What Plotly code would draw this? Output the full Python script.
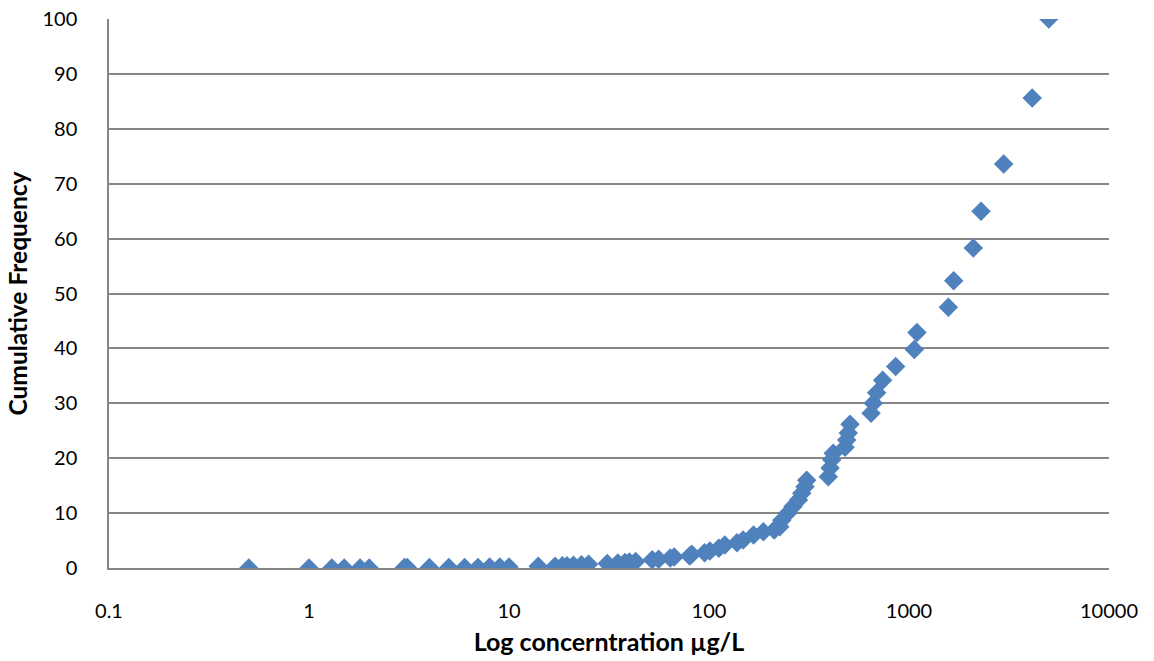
import plotly.graph_objects as go

# Concentrations (µg/L) and cumulative frequency (%)
concentration = [
    0.5, 1, 1.3, 1.5, 1.8, 2, 3, 3.1, 4, 5, 6, 7, 8, 9, 10,
    14, 17, 18.5, 19.5, 21, 23, 25, 31, 35, 38, 40, 43, 52, 56, 64, 67, 80, 82, 95, 101,
    112, 120, 138, 148, 167, 187, 212,
    226, 231, 248, 263, 280, 291, 302, 308,
    395, 403, 411, 418, 479, 488, 497, 507,
    646, 663, 689, 738,
    858, 1063, 1096, 1573, 1673, 2097, 2291, 2975, 4130, 5000,
]
cumulative_freq = [
    0.0, 0.0, 0.0, 0.0, 0.0, 0.0, 0.1, 0.1, 0.1, 0.1, 0.1, 0.1, 0.2, 0.2, 0.2,
    0.3, 0.3, 0.4, 0.4, 0.5, 0.6, 0.7, 0.8, 0.9, 1.0, 1.1, 1.2, 1.5, 1.6, 1.8, 2.0, 2.2, 2.5, 2.8, 3.1,
    3.6, 4.2, 4.6, 5.1, 6.0, 6.6, 6.9,
    7.5, 8.7, 10.0, 11.2, 12.4, 13.6, 14.8, 16.0,
    16.6, 18.2, 19.7, 20.9, 22.0, 23.3, 24.6, 26.2,
    28.2, 30.0, 31.9, 34.2,
    36.7, 39.8, 42.9, 47.5, 52.3, 58.3, 65.0, 73.6, 85.6, 100.0,
]

x_tickvals = [0.1, 1, 10, 100, 1000, 10000]
x_ticktext = ["0.1", "1", "10", "100", "1000", "10000"]
y_tickvals = list(range(0, 101, 10))

font_family = "Lato, 'Open Sans', sans-serif"
grid_color = "#868686"

fig = go.Figure(
    go.Scatter(
        x=concentration,
        y=cumulative_freq,
        mode="markers",
        marker=dict(symbol="diamond", size=15, color="#4F81BD", line=dict(width=0)),
        hoverinfo="skip",
    )
)

fig.update_layout(
    width=1154,
    height=661,
    margin=dict(l=109, r=45, t=19, b=93, autoexpand=False),
    paper_bgcolor="white",
    plot_bgcolor="white",
    showlegend=False,
    font=dict(family=font_family, size=20, color="black"),
)

fig.update_xaxes(
    type="log",
    range=[-1, 4],
    tickvals=x_tickvals,
    ticktext=x_ticktext,
    showgrid=False,
    showline=True,
    linecolor=grid_color,
    linewidth=1.5,
    ticks="",
    ticklabelstandoff=24,
    zeroline=False,
    automargin=False,
    title=dict(text="<b>Log concerntration µg/L</b>", font=dict(size=25), standoff=13),
)

fig.update_yaxes(
    range=[0, 100],
    tickvals=y_tickvals,
    showgrid=True,
    gridcolor=grid_color,
    gridwidth=1.5,
    showline=True,
    linecolor=grid_color,
    linewidth=1.5,
    ticks="",
    ticklabelstandoff=26,
    zeroline=False,
    automargin=False,
    title=dict(text="<b>Cumulative Frequency</b>", font=dict(size=24.5), standoff=8),
)

fig.write_html("out.html")
